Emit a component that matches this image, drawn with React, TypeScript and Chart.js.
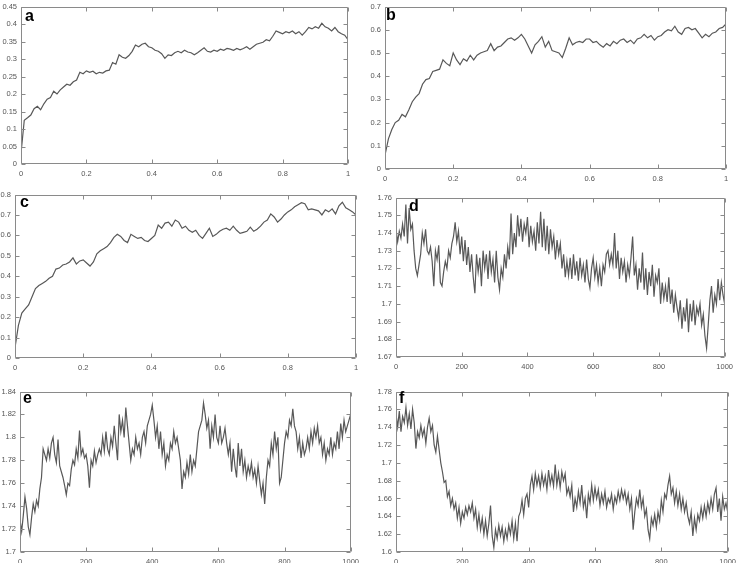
import React, { useEffect, useRef } from "react";
import { Chart, registerables } from "chart.js";
Chart.register(...registerables);

// ---- data ----
const seriesA = [
  0.03, 0.125, 0.132, 0.14, 0.158, 0.165, 0.155, 0.172, 0.185, 0.19,
  0.208, 0.2, 0.212, 0.22, 0.228, 0.225, 0.235, 0.24, 0.262, 0.258,
  0.266, 0.262, 0.265, 0.258, 0.262, 0.26, 0.266, 0.268, 0.29, 0.285,
  0.312, 0.305, 0.302, 0.31, 0.322, 0.34, 0.335, 0.342, 0.345, 0.335,
  0.332, 0.325, 0.322, 0.315, 0.302, 0.312, 0.31, 0.318, 0.322, 0.318,
  0.325, 0.32, 0.318, 0.312, 0.318, 0.325, 0.332, 0.322, 0.32, 0.325,
  0.322, 0.328, 0.325, 0.33, 0.328, 0.325, 0.33, 0.326, 0.33, 0.335,
  0.328, 0.335, 0.342, 0.345, 0.348, 0.355, 0.352, 0.365, 0.38, 0.376,
  0.372, 0.378, 0.375, 0.38, 0.372, 0.378, 0.368, 0.378, 0.39, 0.386,
  0.392, 0.388, 0.402, 0.392, 0.388, 0.38, 0.39, 0.378, 0.372, 0.368,
  0.355,
];
const seriesB = [
  0.06, 0.13, 0.17, 0.2, 0.21, 0.235, 0.225, 0.255, 0.29, 0.31,
  0.325, 0.365, 0.385, 0.39, 0.42, 0.425, 0.43, 0.47, 0.455, 0.445,
  0.5, 0.47, 0.45, 0.475, 0.465, 0.49, 0.47, 0.49, 0.5, 0.505,
  0.51, 0.54, 0.51, 0.525, 0.53, 0.545, 0.56, 0.565, 0.555, 0.565,
  0.58, 0.56, 0.53, 0.5, 0.535, 0.55, 0.57, 0.525, 0.55, 0.51,
  0.505, 0.5, 0.48, 0.52, 0.565, 0.535, 0.545, 0.55, 0.545, 0.56,
  0.56, 0.545, 0.55, 0.535, 0.525, 0.54, 0.53, 0.55, 0.54, 0.555,
  0.56, 0.545, 0.555, 0.54, 0.56, 0.565, 0.58, 0.565, 0.575, 0.555,
  0.57, 0.575, 0.59, 0.6, 0.595, 0.615, 0.59, 0.58, 0.605, 0.61,
  0.6, 0.605, 0.585, 0.565, 0.58, 0.57, 0.585, 0.59, 0.605, 0.61,
  0.625,
];
const seriesC = [
  0.05, 0.16, 0.22, 0.24, 0.26, 0.3, 0.34, 0.355, 0.365, 0.375,
  0.39, 0.4, 0.435, 0.44, 0.455, 0.46, 0.47, 0.49, 0.46, 0.475,
  0.48, 0.465, 0.45, 0.47, 0.51, 0.525, 0.535, 0.545, 0.565, 0.59,
  0.605, 0.595, 0.575, 0.565, 0.605, 0.595, 0.585, 0.59, 0.575, 0.57,
  0.585, 0.6, 0.65, 0.635, 0.66, 0.665, 0.645, 0.675, 0.665, 0.635,
  0.645, 0.625, 0.615, 0.625, 0.6, 0.585, 0.61, 0.635, 0.595, 0.605,
  0.62, 0.63, 0.635, 0.625, 0.645, 0.625, 0.61, 0.615, 0.62, 0.64,
  0.62, 0.63, 0.645, 0.665, 0.675, 0.705, 0.69, 0.665, 0.68, 0.7,
  0.715, 0.725, 0.74, 0.75, 0.76, 0.755, 0.725, 0.73, 0.725, 0.72,
  0.7, 0.725, 0.715, 0.73, 0.705, 0.745, 0.762, 0.735, 0.725, 0.715,
  0.7,
];
const seriesD = [
  1.742, 1.735, 1.741, 1.737, 1.745, 1.738, 1.756, 1.734, 1.754, 1.742,
  1.745, 1.73, 1.72, 1.716, 1.722, 1.728, 1.74, 1.734, 1.742, 1.73,
  1.728, 1.732, 1.724, 1.71, 1.73, 1.725, 1.733, 1.712, 1.71, 1.718,
  1.724, 1.72, 1.73, 1.726, 1.734, 1.738, 1.746, 1.735, 1.741, 1.728,
  1.738, 1.724, 1.736, 1.722, 1.732, 1.718, 1.728, 1.715, 1.706, 1.728,
  1.718, 1.726, 1.71, 1.73, 1.72, 1.728, 1.714, 1.73, 1.718, 1.725,
  1.712, 1.73, 1.715, 1.708, 1.72, 1.715, 1.728, 1.72, 1.732, 1.725,
  1.751, 1.728, 1.74, 1.732, 1.75, 1.738, 1.748, 1.735, 1.745, 1.74,
  1.749, 1.732, 1.744, 1.735, 1.741, 1.73, 1.746, 1.734, 1.752, 1.732,
  1.748, 1.73, 1.744, 1.728, 1.742, 1.732, 1.738, 1.725, 1.736, 1.728,
  1.734, 1.72, 1.728, 1.715, 1.724, 1.716, 1.726, 1.714, 1.728, 1.716,
  1.724, 1.713, 1.726, 1.716, 1.722, 1.712, 1.725, 1.714, 1.709, 1.72,
  1.726, 1.715, 1.722, 1.712, 1.72, 1.71, 1.722, 1.718, 1.728, 1.73,
  1.722, 1.728, 1.722, 1.74, 1.72, 1.73, 1.714, 1.726, 1.718, 1.724,
  1.712, 1.722, 1.716, 1.726, 1.738, 1.716, 1.722, 1.708, 1.72, 1.712,
  1.729, 1.708, 1.72, 1.705, 1.718, 1.71, 1.722, 1.704, 1.716, 1.712,
  1.72, 1.7, 1.712, 1.703, 1.71, 1.701, 1.715, 1.7, 1.708, 1.695,
  1.705, 1.698, 1.692, 1.702, 1.686, 1.698, 1.69, 1.703, 1.684, 1.7,
  1.69, 1.702, 1.688, 1.698, 1.694, 1.7, 1.688, 1.694, 1.682, 1.675,
  1.688, 1.702, 1.71, 1.695, 1.705, 1.7, 1.714, 1.702, 1.712, 1.705,
  1.7,
];
const seriesE = [
  1.728, 1.718, 1.732, 1.748, 1.738, 1.722, 1.715, 1.73, 1.742, 1.735,
  1.745, 1.74, 1.755, 1.765, 1.79, 1.785, 1.78, 1.79, 1.782, 1.795,
  1.8, 1.785, 1.778, 1.798, 1.775, 1.77, 1.765, 1.758, 1.75, 1.76,
  1.758, 1.772, 1.78, 1.776, 1.79, 1.782, 1.806, 1.785, 1.79, 1.782,
  1.785, 1.775, 1.756, 1.78, 1.775, 1.788, 1.778, 1.785, 1.79, 1.785,
  1.8, 1.788, 1.805, 1.79, 1.785, 1.8, 1.792, 1.81, 1.795, 1.78,
  1.82, 1.805, 1.815, 1.8, 1.826, 1.81, 1.795, 1.78, 1.79, 1.785,
  1.8, 1.79, 1.795, 1.785, 1.8, 1.805, 1.795, 1.81, 1.815, 1.82,
  1.828, 1.815, 1.8, 1.81, 1.79, 1.805, 1.785, 1.795, 1.775, 1.785,
  1.78, 1.795, 1.79, 1.805, 1.795, 1.8, 1.79, 1.78, 1.755, 1.77,
  1.765, 1.778, 1.768, 1.785, 1.77, 1.78, 1.775, 1.79, 1.805, 1.81,
  1.815, 1.83, 1.82, 1.808, 1.815, 1.79, 1.81, 1.8, 1.82, 1.8,
  1.795, 1.81, 1.795, 1.8, 1.808, 1.795, 1.785, 1.795, 1.77, 1.79,
  1.775, 1.765, 1.795, 1.775, 1.79, 1.77, 1.78, 1.765, 1.775, 1.768,
  1.778, 1.765, 1.772, 1.76, 1.775, 1.762, 1.75, 1.76, 1.742, 1.765,
  1.78, 1.775, 1.795, 1.785, 1.805, 1.79, 1.8, 1.76, 1.765, 1.78,
  1.795, 1.805, 1.8, 1.815, 1.81, 1.825, 1.81, 1.805, 1.79, 1.8,
  1.782, 1.795, 1.785, 1.79, 1.8, 1.79, 1.805, 1.795, 1.808, 1.8,
  1.81, 1.795, 1.8, 1.785, 1.795, 1.78, 1.79, 1.785, 1.8, 1.785,
  1.795, 1.79, 1.805, 1.79, 1.812, 1.8, 1.815, 1.805, 1.81, 1.815,
  1.82,
];
const seriesF = [
  1.755, 1.74, 1.758, 1.735, 1.752, 1.745, 1.762, 1.742, 1.755, 1.738,
  1.76, 1.745, 1.716, 1.735, 1.728, 1.742, 1.73, 1.738, 1.722, 1.74,
  1.75, 1.735, 1.742, 1.72, 1.712, 1.73, 1.715, 1.7, 1.69, 1.678,
  1.68, 1.662, 1.668, 1.652, 1.66, 1.648, 1.655, 1.638, 1.65, 1.632,
  1.645, 1.638, 1.65, 1.642, 1.652, 1.645, 1.655, 1.638, 1.648, 1.628,
  1.642, 1.625, 1.638, 1.62, 1.635, 1.618, 1.632, 1.652, 1.618, 1.605,
  1.625, 1.615, 1.63, 1.618, 1.628, 1.612, 1.625, 1.615, 1.63, 1.62,
  1.635, 1.615, 1.632, 1.612, 1.64, 1.645, 1.658, 1.642, 1.66, 1.665,
  1.65, 1.675, 1.685, 1.67, 1.688, 1.675, 1.685, 1.672, 1.688, 1.675,
  1.685, 1.67, 1.692, 1.676, 1.686, 1.674, 1.698, 1.675, 1.688, 1.672,
  1.69, 1.68, 1.688, 1.665, 1.672, 1.662, 1.675, 1.645, 1.66, 1.65,
  1.668, 1.655, 1.675, 1.65, 1.66, 1.638, 1.665, 1.655, 1.675, 1.658,
  1.672, 1.66, 1.67, 1.652, 1.665, 1.655, 1.668, 1.65, 1.66, 1.655,
  1.665, 1.648, 1.662, 1.655, 1.668, 1.658, 1.67, 1.66, 1.668, 1.655,
  1.665, 1.648, 1.66, 1.625, 1.645, 1.66, 1.652, 1.67, 1.65, 1.66,
  1.64, 1.648, 1.625, 1.615, 1.638, 1.63, 1.642, 1.628, 1.645, 1.635,
  1.658, 1.645, 1.665, 1.66, 1.675, 1.685, 1.665, 1.672, 1.655, 1.668,
  1.652, 1.665, 1.648, 1.66, 1.645, 1.655, 1.64, 1.632, 1.645, 1.618,
  1.638, 1.625, 1.642, 1.635, 1.65, 1.638, 1.652, 1.64, 1.655, 1.645,
  1.66, 1.648, 1.665, 1.672, 1.645, 1.66, 1.635, 1.662, 1.648, 1.655,
  1.645,
];

const panelLetters = ["a", "b", "c", "d", "e", "f"];
// x range & tick step per panel
const xMaxes = [1, 1, 1, 1000, 1000, 1000];
const xTickSteps = [0.2, 0.2, 0.2, 200, 200, 200];
// y range & tick step per panel
const yMins = [0, 0, 0, 1.67, 1.7, 1.6];
const yMaxes = [0.45, 0.7, 0.8, 1.76, 1.84, 1.78];
const yTickSteps = [0.05, 0.1, 0.1, 0.01, 0.02, 0.02];
const allSeries = [seriesA, seriesB, seriesC, seriesD, seriesE, seriesF];

// ---- layout (plot-area rectangles in page pixels) ----
const rects: [number, number, number, number][] = [
  [21, 4, 348, 164],
  [385, 4, 726, 169],
  [15, 192, 356, 358],
  [396, 195, 726, 357],
  [20, 389, 352, 552],
  [396, 389, 729, 552],
];
const letterOffsets: [number, number][] = [
  [4, 14],
  [1, 13],
  [5, 12],
  [13, 13],
  [3, 11],
  [3, 11],
];

const PAD_L = 28;
const PAD_T = 6;
const PAD_R = 12;
const PAD_B = 14;
const FRAME = "#8a8a8a";
const LABEL = "#555555";
const LINE = "#585858";
const FONT = "Liberation Sans";

const fmt = (v: any) => String(Number(Number(v).toFixed(4)));

function Panel({ idx }: { idx: number }) {
  const ref = useRef<HTMLCanvasElement>(null);
  const [l, t, r, b] = rects[idx];
  const w = PAD_L + (r - l) + PAD_R;
  const h = PAD_T + (b - t) + PAD_B;

  useEffect(() => {
    const values = allSeries[idx];
    const step = xMaxes[idx] / (values.length - 1);
    const pts = values.map((v, i) => ({ x: i * step, y: v }));
    const framePlugin = {
      id: "frame" + idx,
      afterDatasetsDraw(chart: any) {
        const { ctx, chartArea: ca, scales } = chart;
        ctx.save();
        ctx.strokeStyle = FRAME;
        ctx.lineWidth = 1;
        const L = Math.round(ca.left) + 0.5;
        const R = Math.round(ca.right) - 0.5;
        const T = Math.round(ca.top) + 0.5;
        const B = Math.round(ca.bottom) - 0.5;
        ctx.beginPath();
        ctx.rect(L, T, R - L, B - T);
        const tl = 4;
        scales.x.ticks.forEach((tk: any) => {
          const px = Math.round(scales.x.getPixelForValue(tk.value)) + 0.5;
          ctx.moveTo(px, B);
          ctx.lineTo(px, B - tl);
          ctx.moveTo(px, T);
          ctx.lineTo(px, T + tl);
        });
        scales.y.ticks.forEach((tk: any) => {
          const py = Math.round(scales.y.getPixelForValue(tk.value)) + 0.5;
          ctx.moveTo(L, py);
          ctx.lineTo(L + tl, py);
          ctx.moveTo(R, py);
          ctx.lineTo(R - tl, py);
        });
        ctx.stroke();
        ctx.fillStyle = "#000";
        ctx.font = `bold 16px "Liberation Sans", Arial, sans-serif`;
        ctx.textBaseline = "alphabetic";
        ctx.textAlign = "left";
        const [dx, dy] = letterOffsets[idx];
        ctx.fillText(panelLetters[idx], ca.left + dx, ca.top + dy);
        ctx.restore();
      },
    };
    const tickFont = { family: FONT, size: 7.5 };
    const chart = new Chart(ref.current as HTMLCanvasElement, {
      type: "line",
      data: {
        datasets: [
          {
            data: pts,
            borderColor: LINE,
            borderWidth: 1.2,
            pointRadius: 0,
            tension: 0,
            fill: false,
          },
        ],
      },
      options: {
        animation: false,
        responsive: false,
        events: [],
        layout: { padding: { top: PAD_T, right: PAD_R, left: 0, bottom: 0 } },
        plugins: { legend: { display: false }, tooltip: { enabled: false } },
        scales: {
          x: {
            type: "linear",
            min: 0,
            max: xMaxes[idx],
            grid: { display: false, drawTicks: false },
            border: { display: false },
            ticks: {
              stepSize: xTickSteps[idx],
              padding: 5,
              color: LABEL,
              font: tickFont,
              maxRotation: 0,
              autoSkip: false,
              callback: fmt,
            },
            afterFit: (s: any) => {
              s.height = PAD_B;
            },
          },
          y: {
            type: "linear",
            min: yMins[idx],
            max: yMaxes[idx],
            grid: { display: false, drawTicks: false },
            border: { display: false },
            ticks: {
              stepSize: yTickSteps[idx],
              padding: 4,
              color: LABEL,
              font: tickFont,
              autoSkip: false,
              callback: fmt,
            },
            afterFit: (s: any) => {
              s.width = PAD_L;
            },
          },
        },
      } as any,
      plugins: [framePlugin],
    });
    return () => chart.destroy();
  }, [idx]);

  return (
    <canvas
      ref={ref}
      width={w}
      height={h}
      style={{ position: "absolute", left: l - PAD_L, top: t - PAD_T, width: w, height: h }}
    />
  );
}

export default function App() {
  return (
    <div
      style={{
        position: "absolute",
        left: 0,
        top: 0,
        width: 738,
        height: 563,
        overflow: "hidden",
        background: "#fff",
      }}
    >
      {[0, 1, 2, 3, 4, 5].map((i) => (
        <Panel key={i} idx={i} />
      ))}
    </div>
  );
}
